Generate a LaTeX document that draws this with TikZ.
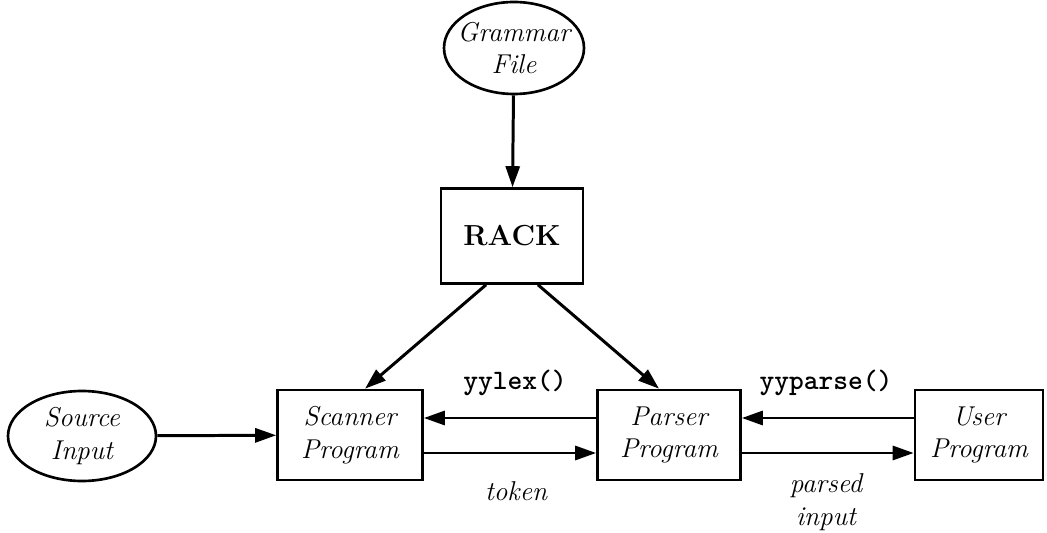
\documentclass[tikz,border=0pt]{standalone}
\usepackage{fontspec}
\usetikzlibrary{shapes.geometric,arrows.meta}
\begin{document}
\begin{tikzpicture}[x=0.02cm,y=-0.02cm,
  every node/.style={font=\fontsize{15.5}{18.5}\selectfont\itshape},
  boxnode/.style={draw,line width=1.5pt,minimum width=145*0.02cm,minimum height=90*0.02cm,align=center,inner sep=0pt},
  ellnode/.style={draw,ellipse,line width=1.5pt,minimum width=146*0.02cm,minimum height=90*0.02cm,align=center,inner sep=0pt},
  arr/.style={line width=1.7pt,-{Triangle[length=0.42cm,width=0.28cm]}},
  lab/.style={font=\fontsize{15.5}{18.5}\selectfont\itshape,inner sep=0pt},
  codelab/.style={font=\fontsize{16}{19}\selectfont\ttfamily\bfseries,inner sep=0pt}]
\useasboundingbox (0,0) rectangle (1047,533);
\node[ellnode,minimum width=140*0.02cm,minimum height=92*0.02cm,inner xsep=-0.2cm] (gram) at (514,48) {Grammar\\File};
\node[boxnode,minimum width=142*0.02cm,minimum height=95*0.02cm,font=\fontsize{16.5}{19}\selectfont\bfseries] (rack) at (512,236) {RACK};
\node[ellnode,minimum width=148*0.02cm] (src) at (82,436) {Source\\Input};
\node[boxnode] (scan) at (350,435) {Scanner\\Program};
\node[boxnode,minimum width=143*0.02cm] (pars) at (669,435) {Parser\\Program};
\node[boxnode,minimum width=128*0.02cm] (user) at (979,435) {User\\Program};
\draw[arr] (gram) -- (rack);
\draw[arr] ([xshift=-26*0.02cm]rack.south) -- ([xshift=15*0.02cm]scan.north);
\draw[arr] ([xshift=26*0.02cm]rack.south) -- ([xshift=-10*0.02cm]pars.north);
\draw[arr] (src) -- (scan);
\draw[arr] ([yshift=17*0.02cm]pars.west) -- ([yshift=17*0.02cm]scan.east);
\draw[arr] ([yshift=-18*0.02cm]scan.east) -- ([yshift=-18*0.02cm]pars.west);
\draw[arr] ([yshift=17*0.02cm]user.west) -- ([yshift=17*0.02cm]pars.east);
\draw[arr] ([yshift=-18*0.02cm]pars.east) -- ([yshift=-18*0.02cm]user.west);
\node[codelab] (lex) at (515,383) {yylex()};
\node[lab] (tok) at (516,491) {token};
\node[codelab] (yyp) at (826,383) {yyparse()};
\node[lab] (pin1) at (826,486) {parsed};
\node[lab] (pin2) at (826,519) {input};
\end{tikzpicture}
\end{document}
